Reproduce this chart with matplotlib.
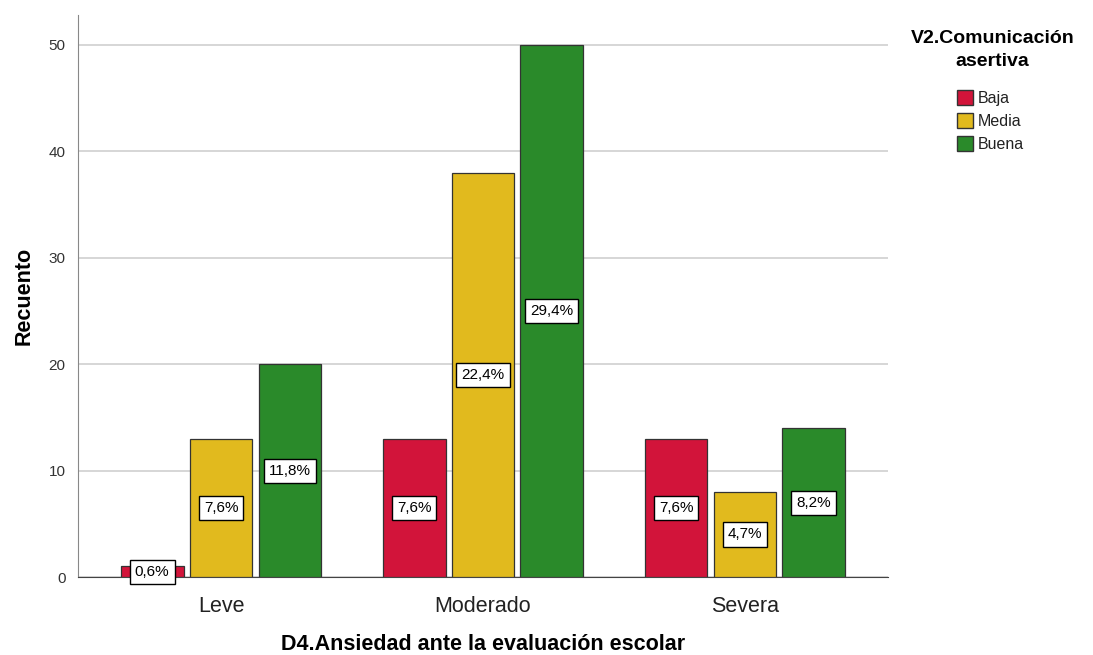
import numpy as np
import matplotlib.pyplot as plt
from matplotlib.patches import Patch

plt.rcParams['font.family'] = ['Liberation Sans', 'DejaVu Sans']

categories = ["Leve", "Moderado", "Severa"]
series = ["Baja", "Media", "Buena"]
baja = [1, 13, 13]
media = [13, 38, 8]
buena = [20, 50, 14]
baja_pct = ["0,6%", "7,6%", "7,6%"]
media_pct = ["7,6%", "22,4%", "4,7%"]
buena_pct = ["11,8%", "29,4%", "8,2%"]

colors = ["#D2143A", "#E1BA1E", "#2A8A2A"]

fig = plt.figure(figsize=(10.93, 6.55), dpi=100)
ax = fig.add_axes([0.0714, 0.119, 0.741, 0.858])

x = np.arange(len(categories))
width = 0.24
offset = 0.263
values = [baja, media, buena]
labels = [baja_pct, media_pct, buena_pct]

for i, (vals, labs) in enumerate(zip(values, labels)):
    pos = x + (i - 1) * offset
    ax.bar(pos, vals, width, color=colors[i], edgecolor="#333333", linewidth=0.9, zorder=3)
    for p, v, lab in zip(pos, vals, labs):
        ax.text(p, v / 2, lab, ha="center", va="center", fontsize=11, zorder=4,
                bbox=dict(boxstyle="square,pad=0.33", facecolor="white", edgecolor="black", linewidth=1.0))

ax.set_xlim(-0.546, 2.546)
ax.set_ylim(0, 52.8)
ax.set_yticks([0, 10, 20, 30, 40, 50])
ax.yaxis.grid(True, color="#D0D0D0", linewidth=1.2, zorder=0)
ax.set_axisbelow(True)
ax.set_xticks(x)
ax.set_xticklabels(categories, fontsize=15.5, color="#222222")
ax.tick_params(axis="y", length=0, labelsize=11, pad=9, colors="#333333")
ax.tick_params(axis="x", length=0, pad=14)
for s in ["top", "right"]:
    ax.spines[s].set_visible(False)
ax.spines["left"].set_color("#888888")
ax.spines["bottom"].set_color("#444444")

ax.set_xlabel("D4.Ansiedad ante la evaluación escolar", fontsize=15.5, fontweight="bold", labelpad=12)
ax.set_ylabel("Recuento", fontsize=15.5, fontweight="bold", labelpad=10)

fig.text(0.908, 0.954, "V2.Comunicación\nasertiva", ha="center", va="top", fontsize=14,
         fontweight="bold", linespacing=1.45)
handles = [Patch(facecolor=c, edgecolor="#333333", label=s) for c, s in zip(colors, series)]
leg = fig.legend(handles=handles, loc="upper left", bbox_to_anchor=(0.868, 0.875), frameon=False,
                 fontsize=11.5, handlelength=1.05, handleheight=1.05, handletextpad=0.25,
                 labelspacing=0.45, borderpad=0)
for t in leg.get_texts():
    t.set_color("#222222")

fig.savefig("out.png", dpi=100)
